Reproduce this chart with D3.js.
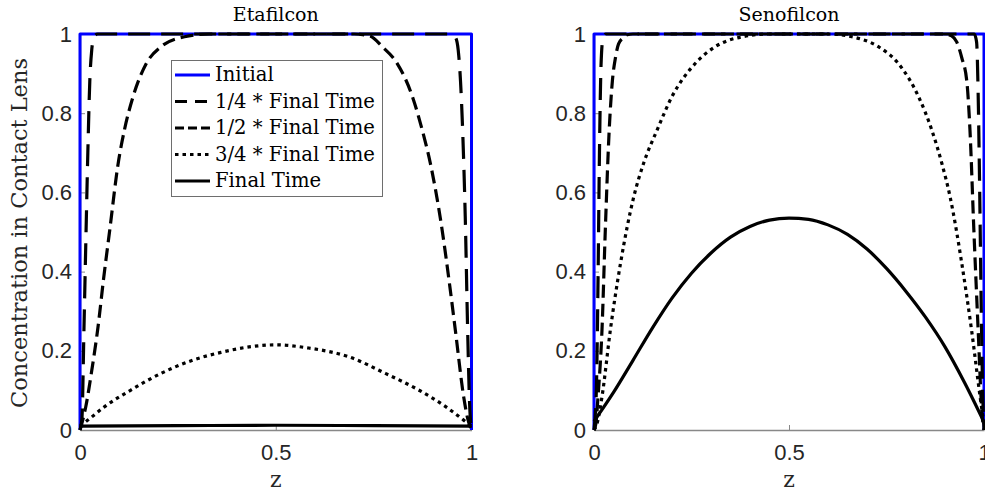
<!DOCTYPE html>
<html>
<head>
<meta charset="utf-8">
<script src="https://cdn.jsdelivr.net/npm/d3@7"></script>
<style>
  html, body { margin: 0; padding: 0; background: #fff; }
  svg { display: block; }
</style>
</head>
<body>
<svg id="chart" width="985" height="492"></svg>
<script>
// ---------------- DATA ----------------
const panelTitles = ["Etafilcon", "Senofilcon"];
const legendLabels = ["Initial", "1/4 * Final Time", "1/2 * Final Time", "3/4 * Final Time", "Final Time"];
const xTickValues = [0, 0.5, 1];
const xTickLabels = ["0", "0.5", "1"];
const yTickValues = [0, 0.2, 0.4, 0.6, 0.8, 1];
const yTickLabels = ["0", "0.2", "0.4", "0.6", "0.8", "1"];

// Initial condition (same for both lenses): [z, concentration]
const initial = [[0, 0], [0, 1], [1, 1], [1, 0]];

// Etafilcon
const etaQuarter = [[0,0],[0.005,0.03],[0.01,0.25],[0.015,0.48],[0.02,0.7],[0.025,0.88],[0.03,0.96],[0.036,0.993],[0.045,1],
  [0.95,1],[0.96,0.99],[0.966,0.96],[0.972,0.88],[0.978,0.74],[0.984,0.54],[0.99,0.26],[0.995,0.07],[1,0]];
const etaHalf = [[0,0],[0.015,0.06],[0.03,0.15],[0.046,0.26],[0.06,0.38],[0.076,0.505],[0.097,0.67],[0.114,0.76],[0.135,0.84],
  [0.169,0.925],[0.207,0.968],[0.267,0.993],[0.33,1],[0.7,1],[0.74,0.995],[0.772,0.968],[0.81,0.926],[0.849,0.842],
  [0.874,0.758],[0.895,0.673],[0.925,0.505],[0.945,0.36],[0.959,0.25],[0.98,0.084],[0.99,0.03],[1,0]];
const etaThreeQuarter = [[0,0.01],[0.02,0.025],[0.063,0.059],[0.13,0.101],[0.207,0.143],[0.29,0.177],[0.36,0.196],[0.42,0.208],
  [0.5,0.215],[0.584,0.207],[0.686,0.185],[0.78,0.143],[0.865,0.101],[0.934,0.059],[0.98,0.025],[1,0.01]];
const etaFinal = [[0,0.01],[0.25,0.011],[0.5,0.012],[0.75,0.011],[1,0.01]];

// Senofilcon
const senoQuarter = [[0,0],[0.006,0.1],[0.01,0.35],[0.014,0.7],[0.018,0.92],[0.023,0.99],[0.03,1],
  [0.975,1],[0.981,0.98],[0.985,0.85],[0.989,0.6],[0.993,0.3],[0.997,0.08],[1,0]];
const senoHalf = [[0,0],[0.005,0.017],[0.01,0.08],[0.0205,0.253],[0.029,0.505],[0.039,0.758],[0.047,0.88],[0.055,0.94],
  [0.063,0.975],[0.075,0.99],[0.085,0.998],[0.1,1],[0.9,1],[0.917,0.995],[0.93,0.98],[0.943,0.94],[0.956,0.88],
  [0.964,0.758],[0.974,0.505],[0.985,0.253],[0.995,0.04],[1,0]];
const senoThreeQuarter = [[0,0],[0.008,0.017],[0.0205,0.084],[0.042,0.253],[0.068,0.421],[0.102,0.589],[0.127,0.673],
  [0.162,0.758],[0.2,0.842],[0.26,0.926],[0.311,0.968],[0.38,0.993],[0.45,1],[0.6,1],[0.661,0.993],[0.729,0.968],
  [0.78,0.926],[0.832,0.842],[0.866,0.758],[0.892,0.673],[0.913,0.589],[0.943,0.421],[0.968,0.253],[0.99,0.084],[1,0.015]];
const senoFinal = [[0,0.022],[0.05,0.095],[0.1,0.176],[0.15,0.258],[0.2,0.333],[0.25,0.396],[0.3,0.447],[0.35,0.487],
  [0.4,0.514],[0.45,0.53],[0.5,0.535],[0.55,0.532],[0.6,0.518],[0.65,0.494],[0.7,0.457],[0.75,0.408],[0.8,0.35],
  [0.85,0.285],[0.9,0.21],[0.95,0.12],[1,0.02]];

// ---------------- STYLES ----------------
const styles = [
  { color: "#0000ff", width: 3, dash: null },
  { color: "#000", width: 3.2, dash: "22,11" },
  { color: "#000", width: 3.2, dash: "13,6" },
  { color: "#000", width: 3.2, dash: "3.5,4" },
  { color: "#000", width: 3.2, dash: null }
];

const panels = [
  { title: panelTitles[0], x0: 80, x1: 471.5, series: [initial, etaQuarter, etaHalf, etaThreeQuarter, etaFinal], legend: true },
  { title: panelTitles[1], x0: 594, x1: 984, series: [initial, senoQuarter, senoHalf, senoThreeQuarter, senoFinal], legend: false }
];

const svg = d3.select("#chart");
const yTop = 34, yBot = 430;
const y = d3.scaleLinear().domain([0, 1]).range([yBot, yTop]);
const serif = "'DejaVu Serif', serif";
const sans = "'Liberation Sans', Arial, sans-serif";

panels.forEach((p, pi) => {
  const x = d3.scaleLinear().domain([0, 1]).range([p.x0, p.x1]);
  const g = svg.append("g");

  // axes
  const xAxis = d3.axisBottom(x).tickValues(xTickValues)
    .tickFormat((d, i) => xTickLabels[i]).tickSizeInner(-5).tickSizeOuter(0).tickPadding(14);
  const yAxis = d3.axisLeft(y).tickValues(yTickValues)
    .tickFormat((d, i) => yTickLabels[i]).tickSizeInner(-5).tickSizeOuter(0).tickPadding(8);

  const gx = g.append("g").attr("transform", `translate(0,${yBot})`).call(xAxis);
  const gy = g.append("g").attr("transform", `translate(${p.x0},0)`).call(yAxis);
  [gx, gy].forEach(a => {
    a.select(".domain").attr("stroke", "#888").attr("stroke-width", 1.5);
    a.selectAll(".tick line").attr("stroke", "#888").attr("stroke-width", 1);
    a.selectAll(".tick text").attr("fill", "#262626")
      .style("font-family", sans).style("font-size", "22px");
  });

  // lines
  p.series.forEach((data, i) => {
    const st = styles[i];
    const line = d3.line().x(d => x(d[0])).y(d => y(d[1]))
      .curve(i === 0 ? d3.curveLinear : d3.curveMonotoneX);
    g.append("path").datum(data)
      .attr("d", line)
      .attr("fill", "none")
      .attr("stroke", st.color)
      .attr("stroke-width", st.width)
      .attr("stroke-dasharray", st.dash)
      .attr("stroke-linejoin", "round");
  });

  // title
  g.append("text").attr("x", (p.x0 + p.x1) / 2).attr("y", 21)
    .attr("text-anchor", "middle").attr("font-family", serif).attr("font-size", 19)
    .attr("fill", "#000").text(p.title);

  // x label
  g.append("text").attr("x", (p.x0 + p.x1) / 2).attr("y", 487)
    .attr("text-anchor", "middle").attr("font-family", serif).attr("font-size", 22)
    .attr("fill", "#262626").text("z");

  // legend
  if (p.legend) {
    const lg = g.append("g");
    lg.append("rect").attr("x", 171.5).attr("y", 60.5).attr("width", 211).attr("height", 136)
      .attr("fill", "#fff").attr("stroke", "#6e6e6e").attr("stroke-width", 1);
    legendLabels.forEach((lab, i) => {
      const ly = 75 + i * 26.5;
      const st = styles[i];
      lg.append("line").attr("x1", 175).attr("x2", 210).attr("y1", ly).attr("y2", ly)
        .attr("stroke", st.color).attr("stroke-width", st.width)
        .attr("stroke-dasharray", i === 1 ? "12,8" : (i === 2 ? "9,4" : st.dash));
      lg.append("text").attr("x", 215).attr("y", ly + 6)
        .attr("font-family", serif).attr("font-size", 19.6).attr("fill", "#000").text(lab);
    });
  }
});

// y label
svg.append("text")
  .attr("transform", "translate(27,233) rotate(-90)")
  .attr("text-anchor", "middle")
  .attr("font-family", serif).attr("font-size", 22.5)
  .attr("fill", "#262626")
  .text("Concentration in Contact Lens");
</script>
</body>
</html>
